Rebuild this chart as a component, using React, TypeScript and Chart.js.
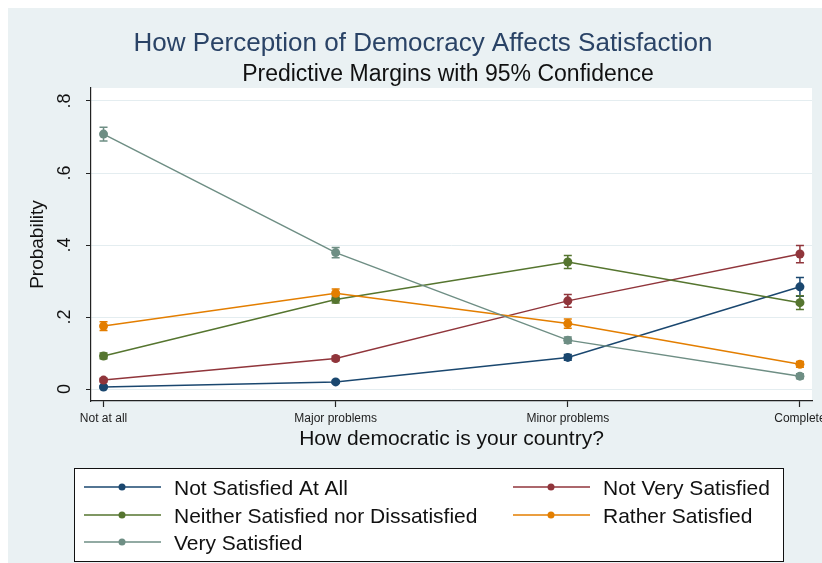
import React, { useEffect, useRef } from "react";
import { Chart, registerables } from "chart.js";

Chart.register(...registerables);

// ---------- data ----------
const categories = ["Not at all", "Major problems", "Minor problems", "Complete"];
const seriesLabels = [
  "Not Satisfied At All",
  "Not Very Satisfied",
  "Neither Satisfied nor Dissatisfied",
  "Rather Satisfied",
  "Very Satisfied",
];
const notSatisfiedAtAll = [0.006, 0.02, 0.088, 0.284];
const notVerySatisfied = [0.025, 0.085, 0.245, 0.375];
const neitherSatisfied = [0.092, 0.249, 0.353, 0.24];
const ratherSatisfied = [0.175, 0.266, 0.182, 0.069];
const verySatisfied = [0.708, 0.379, 0.136, 0.036];

// 95% CI half-widths
const notSatisfiedAtAllErr = [0.003, 0.004, 0.008, 0.026];
const notVerySatisfiedErr = [0.005, 0.006, 0.018, 0.024];
const neitherSatisfiedErr = [0.008, 0.01, 0.018, 0.019];
const ratherSatisfiedErr = [0.012, 0.012, 0.013, 0.008];
const verySatisfiedErr = [0.019, 0.014, 0.009, 0.007];

const yTickValues = [0, 0.2, 0.4, 0.6, 0.8];
const yTickLabels = ["0", ".2", ".4", ".6", ".8"];

const titleText = "How Perception of Democracy Affects Satisfaction";
const subtitleText = "Predictive Margins with 95% Confidence";
const xTitleText = "How democratic is your country?";
const yTitleText = "Probability";

const seriesColors = ["#1a476f", "#90353b", "#55752f", "#e37e00", "#6e8e84"];

const FONT = "'Liberation Sans', Arial, sans-serif";
const BG = "#eaf1f3";

const allValues = [notSatisfiedAtAll, notVerySatisfied, neitherSatisfied, ratherSatisfied, verySatisfied];
const allErrors = [notSatisfiedAtAllErr, notVerySatisfiedErr, neitherSatisfiedErr, ratherSatisfiedErr, verySatisfiedErr];

const stataPlugin = {
  id: "stataDecor",
  beforeDraw(chart: any) {
    const { ctx, chartArea, width, height } = chart;
    ctx.save();
    ctx.fillStyle = BG;
    ctx.fillRect(0, 0, width, height);
    ctx.fillStyle = "#ffffff";
    ctx.fillRect(chartArea.left, chartArea.top, chartArea.right - chartArea.left, chartArea.bottom - chartArea.top);
    ctx.restore();
  },
  beforeDatasetsDraw(chart: any) {
    const { ctx } = chart;
    const xs = chart.scales.x;
    const ys = chart.scales.y;
    ctx.save();
    allValues.forEach((vals, i) => {
      ctx.strokeStyle = seriesColors[i];
      ctx.lineWidth = 1.5;
      vals.forEach((v, j) => {
        const e = allErrors[i][j];
        const x = xs.getPixelForValue(j);
        const y1 = ys.getPixelForValue(v - e);
        const y2 = ys.getPixelForValue(v + e);
        ctx.beginPath();
        ctx.moveTo(x, y1);
        ctx.lineTo(x, y2);
        ctx.moveTo(x - 4, y1);
        ctx.lineTo(x + 4, y1);
        ctx.moveTo(x - 4, y2);
        ctx.lineTo(x + 4, y2);
        ctx.stroke();
      });
    });
    ctx.restore();
  },
  afterDraw(chart: any) {
    const { ctx } = chart;
    const ys = chart.scales.y;
    ctx.save();
    // titles
    ctx.textAlign = "center";
    ctx.textBaseline = "alphabetic";
    ctx.fillStyle = "#2a4366";
    ctx.font = `26px ${FONT}`;
    ctx.fillText(titleText, 415, 43);
    ctx.fillStyle = "#111111";
    ctx.font = `23px ${FONT}`;
    ctx.fillText(subtitleText, 440, 73);

    // rotated y tick labels
    ctx.font = `18px ${FONT}`;
    ctx.fillStyle = "#111111";
    yTickValues.forEach((v, k) => {
      const y = ys.getPixelForValue(v);
      ctx.save();
      ctx.translate(57, y);
      ctx.rotate(-Math.PI / 2);
      ctx.textAlign = "center";
      ctx.textBaseline = "middle";
      ctx.fillText(yTickLabels[k], 0, 0);
      ctx.restore();
    });

    // legend
    const bx = 66.5, by = 460.5, bw = 709, bh = 93;
    ctx.fillStyle = "#ffffff";
    ctx.fillRect(bx, by, bw, bh);
    ctx.strokeStyle = "#111111";
    ctx.lineWidth = 1;
    ctx.strokeRect(bx, by, bw, bh);
    const cols = [76, 505];
    const rows = [479, 507, 534];
    ctx.font = `21px ${FONT}`;
    ctx.textAlign = "left";
    ctx.textBaseline = "middle";
    chart.data.datasets.forEach((ds: any, i: number) => {
      const cx = cols[i % 2];
      const cy = rows[Math.floor(i / 2)];
      ctx.strokeStyle = ds.borderColor;
      ctx.lineWidth = 1.5;
      ctx.beginPath();
      ctx.moveTo(cx, cy);
      ctx.lineTo(cx + 77, cy);
      ctx.stroke();
      ctx.fillStyle = ds.borderColor;
      ctx.beginPath();
      ctx.arc(cx + 38, cy, 3.5, 0, Math.PI * 2);
      ctx.fill();
      ctx.fillStyle = "#111111";
      ctx.fillText(ds.label, cx + 90, cy + 2);
    });
    ctx.restore();
  },
};

export default function App() {
  const ref = useRef<HTMLCanvasElement | null>(null);
  useEffect(() => {
    if (!ref.current) return;
    const datasets = allValues.map((vals, i) => ({
      label: seriesLabels[i],
      data: vals.map((v, j) => ({ x: j, y: v })),
      borderColor: seriesColors[i],
      backgroundColor: seriesColors[i],
      borderWidth: 1.5,
      pointRadius: 4.5,
      pointHoverRadius: 4.5,
      pointBorderWidth: 0,
      pointStyle: "circle",
      tension: 0,
      order: allValues.length - i,
    }));
    const chart = new Chart(ref.current, {
      type: "line",
      data: { datasets },
      plugins: [stataPlugin],
      options: {
        animation: false,
        responsive: false,
        maintainAspectRatio: false,
        layout: { padding: { left: 8, right: 10, top: 80, bottom: 110 } },
        plugins: {
          legend: { display: false },
          title: { display: false },
          tooltip: { enabled: false },
        },
        scales: {
          x: {
            type: "linear",
            min: -0.054,
            max: 3.052,
            afterBuildTicks: (scale: any) => {
              scale.ticks = categories.map((_, i) => ({ value: i }));
            },
            afterFit: (scale: any) => {
              scale.height = 52;
              scale.paddingLeft = 0;
              scale.paddingRight = 0;
            },
            ticks: {
              autoSkip: false,
              maxRotation: 0,
              minRotation: 0,
              padding: 4,
              color: "#222222",
              font: { family: FONT, size: 12 },
              callback: (v: any) => categories[Math.round(v)] ?? "",
            },
            grid: {
              drawOnChartArea: false,
              drawTicks: true,
              tickLength: 6,
              tickColor: "#222222",
              tickWidth: 1.2,
            },
            border: { display: true, color: "#222222", width: 1.2 },
            title: {
              display: true,
              text: xTitleText,
              color: "#111111",
              font: { family: FONT, size: 21 },
              padding: { top: 0, bottom: 1 },
            },
          },
          y: {
            type: "linear",
            min: -0.033,
            max: 0.836,
            afterBuildTicks: (scale: any) => {
              scale.ticks = yTickValues.map((v) => ({ value: v }));
            },
            afterFit: (scale: any) => {
              scale.width = 75;
              scale.paddingTop = 0;
              scale.paddingBottom = 0;
            },
            ticks: { display: false },
            grid: {
              color: "#e4edf0",
              lineWidth: 1,
              drawTicks: true,
              tickLength: 5,
              tickColor: "#222222",
            },
            border: { display: true, color: "#222222", width: 1.2 },
            title: {
              display: true,
              text: yTitleText,
              color: "#111111",
              font: { family: FONT, size: 19 },
              padding: { top: 10.6, bottom: 0 },
            },
          },
        },
      },
    });
    return () => chart.destroy();
  }, []);
  return (
    <div style={{ position: "fixed", left: 8, top: 8, width: 814, height: 555 }}>
      <canvas ref={ref} width={814} height={555} style={{ display: "block", width: 814, height: 555 }} />
    </div>
  );
}
